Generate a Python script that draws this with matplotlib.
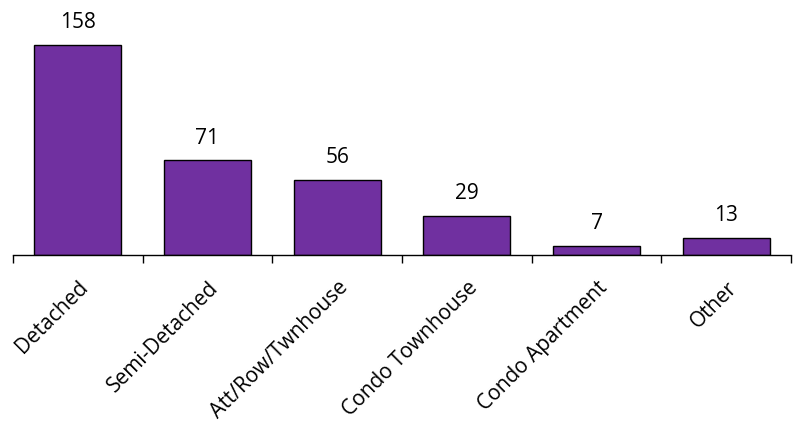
import matplotlib
matplotlib.use("Agg")
import matplotlib.pyplot as plt
import matplotlib.transforms as mtransforms
import numpy as np

categories = ["Detached", "Semi-Detached", "Att/Row/Twnhouse", "Condo Townhouse", "Condo Apartment", "Other"]
counts = [158, 71, 56, 29, 7, 13]

plt.rcParams["font.family"] = ["Open Sans", "DejaVu Sans"]

fig = plt.figure(figsize=(8, 4.26), dpi=100)
ax = fig.add_axes([13 / 800, 1 - 255 / 426, 778 / 800, 213 / 426])

x = np.arange(len(categories))
ax.bar(x, counts, width=0.67, color="#7030A0", edgecolor="black", linewidth=1.0)
for xi, v in zip(x, counts):
    ax.text(xi, v + 9, str(v), ha="center", va="bottom", fontsize=15, clip_on=False)

ax.set_xlim(-0.5, len(categories) - 0.5)
ax.set_ylim(0, 160)
ax.set_yticks([])
for s in ["top", "right", "left"]:
    ax.spines[s].set_visible(False)
ax.spines["bottom"].set_linewidth(1.0)

ax.set_xticks(np.arange(-0.5, len(categories) + 0.5, 1.0))
ax.set_xticklabels([])
ax.tick_params(axis="x", length=6, width=1.0, direction="out")
ax.set_xticks(x, minor=True)
ax.set_xticklabels(categories, minor=True, rotation=45, ha="right", rotation_mode="anchor", fontsize=15)
ax.tick_params(axis="x", which="minor", length=0, pad=16)
shift = mtransforms.ScaledTranslation(0, 0, fig.dpi_scale_trans)
for lbl in ax.get_xticklabels(minor=True):
    lbl.set_transform(lbl.get_transform() + shift)

fig.savefig("out.png", dpi=100)
